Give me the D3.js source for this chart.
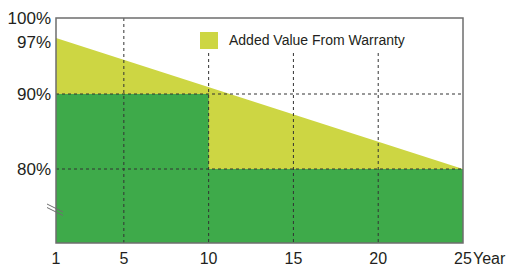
<!DOCTYPE html>
<html>
<head>
<meta charset="utf-8">
<script src="https://cdn.jsdelivr.net/npm/d3@7"></script>
<style>
  body { margin: 0; background: #fff; }
  text { font-family: "Liberation Sans", Arial, sans-serif; fill: #231f20; }
</style>
</head>
<body>
<svg width="509" height="266"></svg>
<script>
// warranty data
var years = [1, 10, 10, 25];
var guaranteed = [90, 90, 80, 80];      // step warranty
var linearStart = 97, linearEnd = 80;   // linear warranty line
var xTicks = [1, 5, 10, 15, 20, 25];
var yTicks = [100, 97, 90, 80];
var gridX = [5, 10, 15, 20];
var gridY = [90, 80];
var legendLabel = "Added Value From Warranty";

var svg = d3.select("svg");

var x = d3.scaleLinear().domain([1, 25]).range([56, 463]);
// axis is broken below 80%, spacing not uniform in the original
var y = d3.scaleLinear().domain([70, 80, 90, 97, 100]).range([243, 169, 94, 38, 18]);

var green = "#3eaa4a", yellow = "#cdd643";

// yellow area: linear line down to baseline
svg.append("path")
  .attr("fill", yellow)
  .attr("d", d3.area().x(d => x(d[0])).y0(y(70)).y1(d => y(d[1]))([[1, linearStart], [25, linearEnd]]));

// green step area
var steps = years.map((d, i) => [d, guaranteed[i]]);
svg.append("path")
  .attr("fill", green)
  .attr("d", d3.area().x(d => x(d[0])).y0(y(70)).y1(d => y(d[1]))(steps));

// dashed grid (lines under the legend stop short of it)
svg.selectAll(".gx").data(gridX).enter().append("line")
  .attr("x1", d => x(d)).attr("x2", d => x(d))
  .attr("y1", d => d >= 10 ? 53 : y(100)).attr("y2", y(70))
  .attr("stroke", "#333").attr("stroke-width", 1).attr("stroke-dasharray", "3,3");
svg.selectAll(".gy").data(gridY).enter().append("line")
  .attr("x1", x(1)).attr("x2", x(25))
  .attr("y1", d => y(d)).attr("y2", d => y(d))
  .attr("stroke", "#333").attr("stroke-width", 1).attr("stroke-dasharray", "3,3");

// frame
svg.append("rect")
  .attr("x", x(1)).attr("y", y(100))
  .attr("width", x(25) - x(1)).attr("height", y(70) - y(100))
  .attr("fill", "none").attr("stroke", "#6e6e6e").attr("stroke-width", 1.5);

// axis break marks
[0, 3.5].forEach(function(o) {
  svg.append("line")
    .attr("x1", 47).attr("y1", 204 + o).attr("x2", 63).attr("y2", 212 + o)
    .attr("stroke", "#6e6e6e").attr("stroke-width", 1);
});

// y labels
svg.selectAll(".yl").data(yTicks).enter().append("text")
  .attr("x", 51).attr("y", d => y(d) + (d === 97 ? 10 : 6))
  .attr("text-anchor", "end").style("font-size", "17px")
  .text(d => d + "%");

// x labels
svg.selectAll(".xl").data(xTicks).enter().append("text")
  .attr("x", d => x(d)).attr("y", 264)
  .attr("text-anchor", "middle").style("font-size", "16px")
  .text(d => d);
svg.append("text")
  .attr("x", x(25) + 10).attr("y", 264)
  .style("font-size", "16px").text("Year");

// legend
svg.append("rect").attr("x", 200).attr("y", 32).attr("width", 18).attr("height", 17).attr("fill", yellow);
svg.append("text").attr("x", 229).attr("y", 45).style("font-size", "14px").text(legendLabel);
</script>
</body>
</html>
